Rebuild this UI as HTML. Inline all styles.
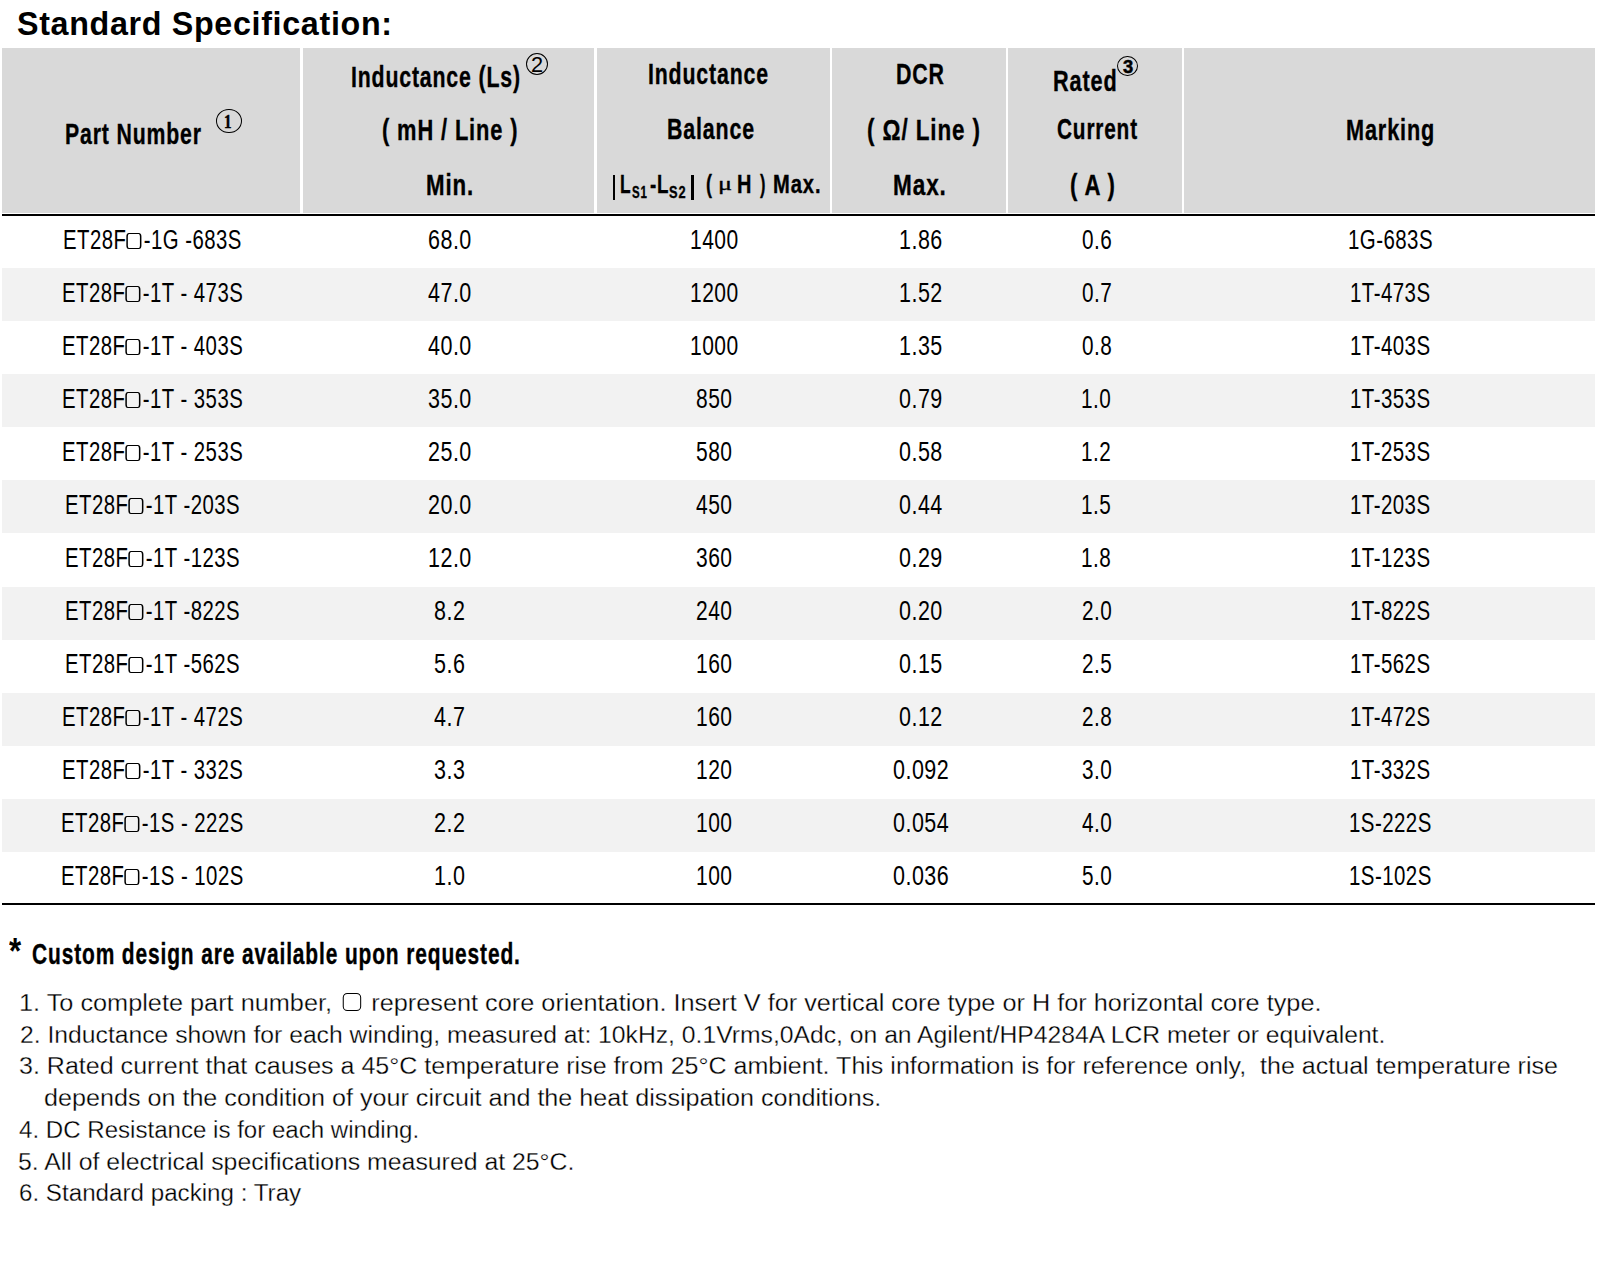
<!DOCTYPE html>
<html><head><meta charset="utf-8"><style>
html,body{margin:0;padding:0;background:#fff}
body{font-family:"Liberation Sans",sans-serif;color:#000}
.e{position:absolute;white-space:nowrap;line-height:1}
.e>span{display:inline-block}
.bx{display:inline-block;width:15.6px;height:13.6px;border-style:solid;border-color:#000;border-width:1.7px 2px;border-radius:3.5px/3.5px;vertical-align:0px;margin:0 3.2px 0 0.4px;box-sizing:content-box}
.nb{display:inline-block;width:16px;height:16.5px;border:1.9px solid #000;border-radius:4.5px;vertical-align:-0.4px;margin:0 3px 0 3.5px}
.serif{font-family:"Liberation Serif",serif}
.ttl{letter-spacing:0.7px}
.bd{letter-spacing:0.6px}
.hb{-webkit-text-stroke:0.35px #000;letter-spacing:1.2px}
.nt{-webkit-text-stroke:0.3px #fff}
.dg{-webkit-text-stroke:0.5px #000}
.mu2{-webkit-text-stroke:0.35px #000}

body{width:1600px;height:1265px;position:relative;overflow:hidden}
.e{transform-origin:0 0}
.hd{position:absolute;background:#d9d9d9}
.wl{position:absolute;background:#fff}
.bl{position:absolute;background:#000}
.st{position:absolute;background:#f2f2f2}
.circ{position:absolute;border-style:solid;border-color:#000;border-radius:50%;box-sizing:border-box}
</style></head>
<body>
<div class="hd" style="left:2px;top:48px;width:1593px;height:165px"></div>
<div class="wl" style="left:300.4px;top:48px;width:2.4px;height:165px"></div>
<div class="wl" style="left:594px;top:48px;width:3px;height:165px"></div>
<div class="wl" style="left:830px;top:48px;width:2px;height:165px"></div>
<div class="wl" style="left:1006px;top:48px;width:2px;height:165px"></div>
<div class="wl" style="left:1182px;top:48px;width:2px;height:165px"></div>
<div class="bl" style="left:2px;top:214px;width:1593px;height:2px"></div>
<div class="st" style="left:2px;top:268.0px;width:1593px;height:53px"></div>
<div class="st" style="left:2px;top:374.2px;width:1593px;height:53px"></div>
<div class="st" style="left:2px;top:480.4px;width:1593px;height:53px"></div>
<div class="st" style="left:2px;top:586.6px;width:1593px;height:53px"></div>
<div class="st" style="left:2px;top:692.8px;width:1593px;height:53px"></div>
<div class="st" style="left:2px;top:799.0px;width:1593px;height:53px"></div>
<div class="bl" style="left:2px;top:903px;width:1593px;height:2px"></div>
<div class="e ttl" style="left:17.44px;top:6.80px;font-size:33.5px;font-weight:bold;transform:scaleX(0.9627)"><span>Standard Specification:</span></div>
<div class="e  hb" style="left:64.58px;top:119.20px;font-size:30px;font-weight:bold;transform:scaleX(0.7084)"><span>Part Number</span></div>
<div class="e  hb" style="left:350.88px;top:62.00px;font-size:30px;font-weight:bold;transform:scaleX(0.7085)"><span>Inductance (Ls)</span></div>
<div class="e  hb" style="left:382.27px;top:114.50px;font-size:30px;font-weight:bold;transform:scaleX(0.7283)"><span>( mH / Line )</span></div>
<div class="e  hb" style="left:426.02px;top:170.00px;font-size:30px;font-weight:bold;transform:scaleX(0.7417)"><span>Min.</span></div>
<div class="e  hb" style="left:647.58px;top:58.80px;font-size:30px;font-weight:bold;transform:scaleX(0.7096)"><span>Inductance</span></div>
<div class="e  hb" style="left:667.27px;top:114.10px;font-size:30px;font-weight:bold;transform:scaleX(0.7126)"><span>Balance</span></div>
<div class="e  hb" style="left:620.47px;top:171.40px;font-size:26.2px;font-weight:bold;transform:scaleX(0.6643)"><span>L</span></div>
<div class="e  hb" style="left:632.13px;top:183.90px;font-size:17px;font-weight:bold;transform:scaleX(0.6714)"><span>S1</span></div>
<div class="e  hb" style="left:649.98px;top:171.40px;font-size:26.2px;font-weight:bold;transform:scaleX(0.7160)"><span>-L</span></div>
<div class="e  hb" style="left:669.25px;top:183.90px;font-size:17px;font-weight:bold;transform:scaleX(0.7524)"><span>S2</span></div>
<div class="e  hb" style="left:705.91px;top:171.40px;font-size:26.2px;font-weight:bold;transform:scaleX(0.6875)"><span>(</span></div>
<div class="e  hb" style="left:737.48px;top:171.40px;font-size:26.2px;font-weight:bold;transform:scaleX(0.7625)"><span>H</span></div>
<div class="e  hb" style="left:760.20px;top:171.40px;font-size:26.2px;font-weight:bold;transform:scaleX(0.6250)"><span>)</span></div>
<div class="e  hb" style="left:772.66px;top:171.40px;font-size:26.2px;font-weight:bold;transform:scaleX(0.7681)"><span>Max.</span></div>
<div class="e  hb" style="left:895.98px;top:58.90px;font-size:30px;font-weight:bold;transform:scaleX(0.7123)"><span>DCR</span></div>
<div class="e  hb" style="left:867.05px;top:114.80px;font-size:30px;font-weight:bold;transform:scaleX(0.7483)"><span>( &Omega;/ Line )</span></div>
<div class="e  hb" style="left:893.00px;top:170.00px;font-size:30px;font-weight:bold;transform:scaleX(0.7522)"><span>Max.</span></div>
<div class="e  hb" style="left:1053.25px;top:65.50px;font-size:30px;font-weight:bold;transform:scaleX(0.7226)"><span>Rated</span></div>
<div class="e  hb" style="left:1056.51px;top:114.20px;font-size:30px;font-weight:bold;transform:scaleX(0.6930)"><span>Current</span></div>
<div class="e  hb" style="left:1070.36px;top:169.80px;font-size:30px;font-weight:bold;transform:scaleX(0.7390)"><span>( A )</span></div>
<div class="e  hb" style="left:1346.05px;top:114.60px;font-size:30px;font-weight:bold;transform:scaleX(0.7227)"><span>Marking</span></div>
<div class="e  hb" style="left:32.28px;top:939.50px;font-size:29px;font-weight:bold;transform:scaleX(0.7221)"><span>Custom design are available upon requested.</span></div>
<div class="e  nt" style="left:19.45px;top:990.80px;font-size:24.7px;transform:scaleX(1.0245)"><span>1. To complete part number, <span class="nb"></span> represent core orientation. Insert V for vertical core type or H for horizontal core type.</span></div>
<div class="e  nt" style="left:19.90px;top:1022.50px;font-size:24.7px;transform:scaleX(1.0006)"><span>2. Inductance shown for each winding, measured at: 10kHz, 0.1Vrms,0Adc, on an Agilent/HP4284A LCR meter or equivalent.</span></div>
<div class="e  nt" style="left:19.39px;top:1054.00px;font-size:24.7px;transform:scaleX(1.0143)"><span>3. Rated current that causes a 45&deg;C temperature rise from 25&deg;C ambient. This information is for reference only,&nbsp; the actual temperature rise</span></div>
<div class="e  nt" style="left:43.88px;top:1086.00px;font-size:24.7px;transform:scaleX(1.0184)"><span>depends on the condition of your circuit and the heat dissipation conditions.</span></div>
<div class="e  nt" style="left:19.02px;top:1117.50px;font-size:24.7px;transform:scaleX(0.9754)"><span>4. DC Resistance is for each winding.</span></div>
<div class="e  nt" style="left:18.49px;top:1149.50px;font-size:24.7px;transform:scaleX(1.0056)"><span>5. All of electrical specifications measured at 25&deg;C.</span></div>
<div class="e  nt" style="left:19.02px;top:1181.00px;font-size:24.7px;transform:scaleX(0.9791)"><span>6. Standard packing : Tray</span></div>
<div class="e " style="left:9.00px;top:933.44px;font-size:26px;font-weight:bold;transform:scale(1.2000,1.3889)"><span>*</span></div>
<div class="e serif mu2" style="left:717.79px;top:174.11px;font-size:20px;transform:scale(1.3111,0.9133)"><span>&mu;</span></div>
<div class="e serif dg" style="left:224.36px;top:111.89px;font-size:18px;font-weight:bold;transform:scale(0.8375,1.0538)"><span>1</span></div>
<div class="e " style="left:530.91px;top:53.12px;font-size:20px;transform:scale(1.0889,1.0929)"><span>2</span></div>
<div class="e  dg" style="left:1122.70px;top:58.26px;font-size:18px;font-weight:bold;transform:scale(1.0200,0.9692)"><span>3</span></div>
<div class="e bd" style="left:63.44px;top:226.80px;font-size:27px;transform:scaleX(0.7541)"><span>ET28F<span class="bx"></span>-1G -683S</span></div>
<div class="e bd" style="left:427.98px;top:226.80px;font-size:27px;transform:scaleX(0.7971)"><span>68.0</span></div>
<div class="e bd" style="left:689.79px;top:226.80px;font-size:27px;transform:scaleX(0.7780)"><span>1400</span></div>
<div class="e bd" style="left:898.71px;top:226.80px;font-size:27px;transform:scaleX(0.7961)"><span>1.86</span></div>
<div class="e bd" style="left:1081.53px;top:226.80px;font-size:27px;transform:scaleX(0.7676)"><span>0.6</span></div>
<div class="e bd" style="left:1347.61px;top:226.80px;font-size:27px;transform:scaleX(0.7574)"><span>1G-683S</span></div>
<div class="e bd" style="left:61.93px;top:279.80px;font-size:27px;transform:scaleX(0.7541)"><span>ET28F<span class="bx"></span>-1T - 473S</span></div>
<div class="e bd" style="left:427.98px;top:279.80px;font-size:27px;transform:scaleX(0.7971)"><span>47.0</span></div>
<div class="e bd" style="left:689.79px;top:279.80px;font-size:27px;transform:scaleX(0.7780)"><span>1200</span></div>
<div class="e bd" style="left:898.71px;top:279.80px;font-size:27px;transform:scaleX(0.7961)"><span>1.52</span></div>
<div class="e bd" style="left:1081.53px;top:279.80px;font-size:27px;transform:scaleX(0.7676)"><span>0.7</span></div>
<div class="e bd" style="left:1349.88px;top:279.80px;font-size:27px;transform:scaleX(0.7574)"><span>1T-473S</span></div>
<div class="e bd" style="left:61.93px;top:332.80px;font-size:27px;transform:scaleX(0.7541)"><span>ET28F<span class="bx"></span>-1T - 403S</span></div>
<div class="e bd" style="left:427.98px;top:332.80px;font-size:27px;transform:scaleX(0.7971)"><span>40.0</span></div>
<div class="e bd" style="left:689.79px;top:332.80px;font-size:27px;transform:scaleX(0.7780)"><span>1000</span></div>
<div class="e bd" style="left:898.71px;top:332.80px;font-size:27px;transform:scaleX(0.7961)"><span>1.35</span></div>
<div class="e bd" style="left:1081.53px;top:332.80px;font-size:27px;transform:scaleX(0.7676)"><span>0.8</span></div>
<div class="e bd" style="left:1349.88px;top:332.80px;font-size:27px;transform:scaleX(0.7574)"><span>1T-403S</span></div>
<div class="e bd" style="left:61.93px;top:385.80px;font-size:27px;transform:scaleX(0.7541)"><span>ET28F<span class="bx"></span>-1T - 353S</span></div>
<div class="e bd" style="left:427.98px;top:385.80px;font-size:27px;transform:scaleX(0.7971)"><span>35.0</span></div>
<div class="e bd" style="left:696.41px;top:385.80px;font-size:27px;transform:scaleX(0.7780)"><span>850</span></div>
<div class="e bd" style="left:899.11px;top:385.80px;font-size:27px;transform:scaleX(0.7961)"><span>0.79</span></div>
<div class="e bd" style="left:1081.15px;top:385.80px;font-size:27px;transform:scaleX(0.7676)"><span>1.0</span></div>
<div class="e bd" style="left:1349.88px;top:385.80px;font-size:27px;transform:scaleX(0.7574)"><span>1T-353S</span></div>
<div class="e bd" style="left:61.93px;top:438.80px;font-size:27px;transform:scaleX(0.7541)"><span>ET28F<span class="bx"></span>-1T - 253S</span></div>
<div class="e bd" style="left:427.98px;top:438.80px;font-size:27px;transform:scaleX(0.7971)"><span>25.0</span></div>
<div class="e bd" style="left:696.41px;top:438.80px;font-size:27px;transform:scaleX(0.7780)"><span>580</span></div>
<div class="e bd" style="left:899.11px;top:438.80px;font-size:27px;transform:scaleX(0.7961)"><span>0.58</span></div>
<div class="e bd" style="left:1081.15px;top:438.80px;font-size:27px;transform:scaleX(0.7676)"><span>1.2</span></div>
<div class="e bd" style="left:1349.88px;top:438.80px;font-size:27px;transform:scaleX(0.7574)"><span>1T-253S</span></div>
<div class="e bd" style="left:65.32px;top:491.80px;font-size:27px;transform:scaleX(0.7541)"><span>ET28F<span class="bx"></span>-1T -203S</span></div>
<div class="e bd" style="left:427.98px;top:491.80px;font-size:27px;transform:scaleX(0.7971)"><span>20.0</span></div>
<div class="e bd" style="left:696.41px;top:491.80px;font-size:27px;transform:scaleX(0.7780)"><span>450</span></div>
<div class="e bd" style="left:898.71px;top:491.80px;font-size:27px;transform:scaleX(0.7961)"><span>0.44</span></div>
<div class="e bd" style="left:1081.15px;top:491.80px;font-size:27px;transform:scaleX(0.7676)"><span>1.5</span></div>
<div class="e bd" style="left:1349.88px;top:491.80px;font-size:27px;transform:scaleX(0.7574)"><span>1T-203S</span></div>
<div class="e bd" style="left:65.32px;top:544.80px;font-size:27px;transform:scaleX(0.7541)"><span>ET28F<span class="bx"></span>-1T -123S</span></div>
<div class="e bd" style="left:427.58px;top:544.80px;font-size:27px;transform:scaleX(0.7971)"><span>12.0</span></div>
<div class="e bd" style="left:696.41px;top:544.80px;font-size:27px;transform:scaleX(0.7780)"><span>360</span></div>
<div class="e bd" style="left:899.11px;top:544.80px;font-size:27px;transform:scaleX(0.7961)"><span>0.29</span></div>
<div class="e bd" style="left:1081.15px;top:544.80px;font-size:27px;transform:scaleX(0.7676)"><span>1.8</span></div>
<div class="e bd" style="left:1349.88px;top:544.80px;font-size:27px;transform:scaleX(0.7574)"><span>1T-123S</span></div>
<div class="e bd" style="left:65.32px;top:597.80px;font-size:27px;transform:scaleX(0.7541)"><span>ET28F<span class="bx"></span>-1T -822S</span></div>
<div class="e bd" style="left:433.96px;top:597.80px;font-size:27px;transform:scaleX(0.7971)"><span>8.2</span></div>
<div class="e bd" style="left:696.41px;top:597.80px;font-size:27px;transform:scaleX(0.7780)"><span>240</span></div>
<div class="e bd" style="left:899.11px;top:597.80px;font-size:27px;transform:scaleX(0.7961)"><span>0.20</span></div>
<div class="e bd" style="left:1081.53px;top:597.80px;font-size:27px;transform:scaleX(0.7676)"><span>2.0</span></div>
<div class="e bd" style="left:1349.88px;top:597.80px;font-size:27px;transform:scaleX(0.7574)"><span>1T-822S</span></div>
<div class="e bd" style="left:65.32px;top:650.80px;font-size:27px;transform:scaleX(0.7541)"><span>ET28F<span class="bx"></span>-1T -562S</span></div>
<div class="e bd" style="left:433.96px;top:650.80px;font-size:27px;transform:scaleX(0.7971)"><span>5.6</span></div>
<div class="e bd" style="left:696.02px;top:650.80px;font-size:27px;transform:scaleX(0.7780)"><span>160</span></div>
<div class="e bd" style="left:899.11px;top:650.80px;font-size:27px;transform:scaleX(0.7961)"><span>0.15</span></div>
<div class="e bd" style="left:1081.53px;top:650.80px;font-size:27px;transform:scaleX(0.7676)"><span>2.5</span></div>
<div class="e bd" style="left:1349.88px;top:650.80px;font-size:27px;transform:scaleX(0.7574)"><span>1T-562S</span></div>
<div class="e bd" style="left:61.93px;top:703.80px;font-size:27px;transform:scaleX(0.7541)"><span>ET28F<span class="bx"></span>-1T - 472S</span></div>
<div class="e bd" style="left:433.96px;top:703.80px;font-size:27px;transform:scaleX(0.7971)"><span>4.7</span></div>
<div class="e bd" style="left:696.02px;top:703.80px;font-size:27px;transform:scaleX(0.7780)"><span>160</span></div>
<div class="e bd" style="left:899.11px;top:703.80px;font-size:27px;transform:scaleX(0.7961)"><span>0.12</span></div>
<div class="e bd" style="left:1081.53px;top:703.80px;font-size:27px;transform:scaleX(0.7676)"><span>2.8</span></div>
<div class="e bd" style="left:1349.88px;top:703.80px;font-size:27px;transform:scaleX(0.7574)"><span>1T-472S</span></div>
<div class="e bd" style="left:61.93px;top:756.80px;font-size:27px;transform:scaleX(0.7541)"><span>ET28F<span class="bx"></span>-1T - 332S</span></div>
<div class="e bd" style="left:433.96px;top:756.80px;font-size:27px;transform:scaleX(0.7971)"><span>3.3</span></div>
<div class="e bd" style="left:696.02px;top:756.80px;font-size:27px;transform:scaleX(0.7780)"><span>120</span></div>
<div class="e bd" style="left:892.74px;top:756.80px;font-size:27px;transform:scaleX(0.7961)"><span>0.092</span></div>
<div class="e bd" style="left:1081.53px;top:756.80px;font-size:27px;transform:scaleX(0.7676)"><span>3.0</span></div>
<div class="e bd" style="left:1349.88px;top:756.80px;font-size:27px;transform:scaleX(0.7574)"><span>1T-332S</span></div>
<div class="e bd" style="left:61.17px;top:809.80px;font-size:27px;transform:scaleX(0.7541)"><span>ET28F<span class="bx"></span>-1S - 222S</span></div>
<div class="e bd" style="left:433.96px;top:809.80px;font-size:27px;transform:scaleX(0.7971)"><span>2.2</span></div>
<div class="e bd" style="left:696.02px;top:809.80px;font-size:27px;transform:scaleX(0.7780)"><span>100</span></div>
<div class="e bd" style="left:892.74px;top:809.80px;font-size:27px;transform:scaleX(0.7961)"><span>0.054</span></div>
<div class="e bd" style="left:1081.53px;top:809.80px;font-size:27px;transform:scaleX(0.7676)"><span>4.0</span></div>
<div class="e bd" style="left:1348.74px;top:809.80px;font-size:27px;transform:scaleX(0.7574)"><span>1S-222S</span></div>
<div class="e bd" style="left:61.17px;top:862.80px;font-size:27px;transform:scaleX(0.7541)"><span>ET28F<span class="bx"></span>-1S - 102S</span></div>
<div class="e bd" style="left:433.56px;top:862.80px;font-size:27px;transform:scaleX(0.7971)"><span>1.0</span></div>
<div class="e bd" style="left:696.02px;top:862.80px;font-size:27px;transform:scaleX(0.7780)"><span>100</span></div>
<div class="e bd" style="left:892.74px;top:862.80px;font-size:27px;transform:scaleX(0.7961)"><span>0.036</span></div>
<div class="e bd" style="left:1081.53px;top:862.80px;font-size:27px;transform:scaleX(0.7676)"><span>5.0</span></div>
<div class="e bd" style="left:1348.74px;top:862.80px;font-size:27px;transform:scaleX(0.7574)"><span>1S-102S</span></div>
<div class="bl" style="left:612.6px;top:174.9px;width:2.7px;height:24.7px"></div>
<div class="bl" style="left:691.3px;top:175px;width:2.7px;height:24.6px"></div>
<div class="circ" style="left:216px;top:108.8px;width:25.599999999999994px;height:24.200000000000003px;border-width:1.7px"></div>
<div class="circ" style="left:525.9px;top:53.1px;width:22.100000000000023px;height:21.9px;border-width:1.35px"></div>
<div class="circ" style="left:1117.1px;top:55.8px;width:20.90000000000009px;height:20.400000000000006px;border-width:1.7px"></div>
</body></html>
